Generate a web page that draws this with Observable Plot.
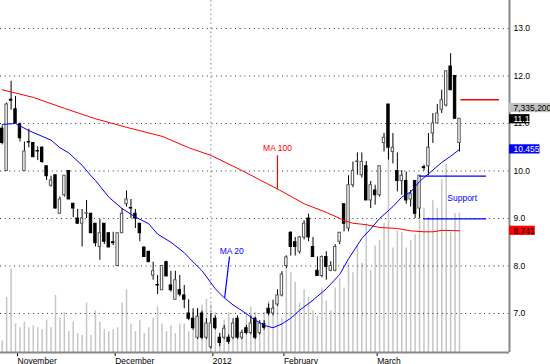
<!DOCTYPE html>
<html><head><meta charset="utf-8">
<script src="https://cdn.jsdelivr.net/npm/d3@7"></script>
<script src="https://cdn.jsdelivr.net/npm/@observablehq/plot@0.6"></script>
<style>
body{margin:0;background:#fff;}
#chart{position:relative;width:550px;height:364px;overflow:hidden;background:#fff;}
#chart svg{position:absolute;left:0;top:0;}
</style></head><body><div id="chart"></div>
<script>
// ---- data ----
const open  = [10.89,10.00,11.50,11.30,10.98,10.00,10.61,10.59,10.42,10.49,10.10,9.69,9.91,9.10,9.49,10.00,9.31,9.00,8.89,9.10,9.10,8.89,8.40,8.89,8.69,8.50,8.00,8.69,9.30,9.22,9.10,8.89,8.39,8.30,7.80,7.60,7.49,8.08,7.59,7.29,7.49,7.38,7.00,6.89,6.49,7.00,6.49,6.29,6.89,6.49,6.49,6.49,6.49,6.89,6.49,6.69,6.59,6.89,6.59,6.78,7.10,7.00,7.19,7.38,8.00,8.70,8.50,8.30,8.60,9.00,8.40,7.90,7.79,8.19,7.90,7.90,8.51,9.30,8.79,9.70,10.19,9.91,10.10,9.38,9.59,9.49,10.59,11.40,10.40,10.00,9.79,9.79,9.40,9.79,9.21,10.08,10.10,10.79,11.00,11.29,11.38,12.20,12.00,10.59];
const high  = [10.95,11.43,11.89,11.57,11.01,10.61,10.88,10.60,10.51,10.51,10.10,9.89,9.91,9.45,9.90,10.00,9.31,9.19,9.19,9.38,9.10,8.89,8.98,8.89,8.69,8.71,8.69,9.21,9.58,9.40,9.19,8.89,8.39,8.30,8.08,7.80,8.00,8.10,7.89,7.89,7.80,7.59,7.29,7.10,7.10,7.05,6.89,7.00,6.95,6.58,6.75,6.55,6.89,6.95,6.65,6.75,6.95,6.92,6.85,6.85,7.20,7.28,7.50,7.88,8.21,8.72,8.60,8.62,8.95,9.09,8.60,8.19,8.21,8.30,8.09,8.45,8.70,9.30,9.90,10.19,10.38,10.38,10.20,9.78,9.70,10.10,10.79,11.40,10.79,10.38,10.01,9.98,9.59,9.79,9.90,10.12,10.79,11.21,11.40,11.70,12.10,12.47,12.00,11.10];
const low   = [10.55,10.00,11.28,11.00,10.61,10.00,10.49,10.29,10.22,10.16,9.80,9.66,9.20,9.10,9.45,9.40,9.02,8.89,8.40,9.00,8.69,8.40,8.12,8.45,8.39,8.43,8.00,8.69,9.24,9.00,8.79,8.51,8.19,8.08,7.70,7.40,7.49,7.78,7.45,7.29,7.35,7.10,6.85,6.65,6.45,6.45,6.45,6.25,6.65,6.30,6.45,6.35,6.45,6.45,6.45,6.55,6.55,6.45,6.55,6.65,6.95,6.95,7.15,7.35,7.95,8.21,8.21,8.25,8.55,8.51,8.19,7.79,7.75,7.70,7.88,7.88,8.45,8.72,8.72,9.65,9.91,9.85,9.38,9.21,9.28,9.45,10.40,10.23,10.15,9.56,9.49,9.30,9.24,9.00,9.00,10.00,9.90,10.58,11.00,11.21,11.35,11.70,11.10,10.40];
const close = [10.59,11.40,11.48,11.00,10.69,10.41,10.60,10.29,10.41,10.19,9.89,9.80,9.21,9.40,9.90,9.40,9.21,8.89,9.00,9.11,8.69,8.48,8.69,8.51,8.39,8.48,8.69,9.10,9.40,9.21,9.00,8.69,8.19,8.08,7.89,7.59,8.00,7.78,7.49,7.70,7.40,7.29,6.89,6.69,6.93,6.49,6.79,6.79,6.69,6.38,6.68,6.40,6.79,6.49,6.59,6.59,6.79,6.49,6.79,6.70,7.00,7.10,7.38,7.82,8.18,8.40,8.40,8.60,8.89,8.60,8.19,7.79,8.19,7.98,8.00,8.40,8.70,8.89,9.70,10.00,10.20,10.19,9.38,9.70,9.49,10.10,10.70,10.49,10.49,9.79,9.90,9.38,9.51,9.10,9.90,10.06,10.49,11.00,11.21,11.49,12.10,11.70,11.10,11.10];
// volume in millions
const volume = [0.6,2.9,4.4,1.5,1.3,1.6,1.3,1.4,1.3,1.2,1.7,1.3,3.0,1.8,2.1,1.1,1.6,1.0,0.9,2.6,0.9,2.2,1.6,1.2,1.1,1.2,1.3,2.6,3.3,1.5,1.1,1.7,1.0,1.3,1.8,2.4,1.5,1.1,1.4,1.0,1.5,1.5,1.1,2.1,2.3,2.5,2.8,2.5,2.1,1.0,1.7,2.1,1.5,1.5,0.8,2.1,2.4,2.1,1.3,2.1,2.7,2.4,2.7,1.8,5.1,4.2,3.7,2.6,3.3,2.9,2.2,1.9,3.4,2.7,2.2,3.4,3.9,3.4,4.7,4.2,5.6,4.7,6.8,4.3,5.6,5.9,6.8,10.6,5.5,6.4,6.3,5.5,5.9,6.2,7.3,7.6,7.1,8.0,7.6,9.1,9.9,6.3,7.3,7.3352];

const ma20Idx = [0,3,6,9,11,13,15,18,20,21,24,27,30,33,35,38,41,42,45,48,50,52,54,57,59,61,63,65,67,70,73,76,78,81,83,85,88,90,92,94,97,99,101,103];
const ma20Val = [10.98,11.00,10.85,10.73,10.65,10.49,10.38,10.12,9.90,9.80,9.45,9.21,9.03,8.89,8.67,8.50,8.28,8.18,7.90,7.52,7.33,7.18,7.06,6.86,6.75,6.70,6.78,6.90,7.07,7.28,7.52,7.82,8.15,8.58,8.78,9.00,9.25,9.45,9.56,9.78,10.02,10.18,10.31,10.455];
const ma100Idx = [0,7,14,21,28,36,42,47,54,62,64,68,73,77,79,82,85,89,92,95,97,99,103];
const ma100Val = [11.71,11.55,11.32,11.10,10.92,10.73,10.49,10.33,10.01,9.62,9.52,9.31,9.13,8.96,8.90,8.87,8.81,8.79,8.74,8.72,8.72,8.75,8.741];

const priceTicks = [7,8,9,10,11,12,13];
const monthIdx = [3,25,47,63,84];
const monthLabels = ["November","December","2012","February","March"];

const annoText  = ["MA 100","MA 20","Support"];
const annoIdx   = [62,51.7,103.6];
const annoPrice = [10.47,8.31,9.43];
const annoColor = ["#ff0000","#0000ff","#0000ff"];

const leaders = [
  {i1:62, p1:10.33, i2:62, p2:9.62, color:"#ff0000"},
  {i1:51.2, p1:8.20, i2:50.1, p2:7.33, color:"#0000ff"}
];
const levels = [
  {i1:94, i2:109.1, p:9.89, color:"#0000ff"},
  {i1:95, i2:109.1, p:8.99, color:"#0000ff"},
  {i1:103.3, i2:112, p:11.5, color:"#ff0000"}
];

const labelText  = ["7,335,200","11.1","10.455","8.741"];
const labelPrice = [11.326,11.09,10.455,8.741];
const labelFill  = ["#c0c0c0","#000000","#0000ff","#ff0000"];
const labelColor = ["#000000","#ffffff","#ffffff","#000000"];

// ---- layout ----
const W = 550, H = 364, mR = 41, mB = 12;
const xDomain = [-0.383, 114.26];
const yDomain = [6.1789, 13.5895];
const volDomain = [0, 18.53];
const fontFamily = "'Liberation Sans', Arial, sans-serif";
const fontPx = 8.5;

// px per unit, from the scales' own domain/range
const pxPerIdx = (W - mR) / (xDomain[1] - xDomain[0]);
const pxPerPrice = (H - mB) / (yDomain[1] - yDomain[0]);
const ctx = document.createElement("canvas").getContext("2d");
ctx.font = `${fontPx}px ${fontFamily}`;

const bars = open.map((o,i)=>({i, o, h:high[i], l:low[i], c:close[i], v:volume[i], up: close[i] >= o}));
const ma20 = ma20Idx.map((i,k)=>({i, v:ma20Val[k]}));
const ma100 = ma100Idx.map((i,k)=>({i, v:ma100Val[k]}));
const anno = annoText.map((t,k)=>({t, i:annoIdx[k], p:annoPrice[k], color:annoColor[k]}));
const vlabels = labelText.map((t,k)=>{
  const w = ctx.measureText(t).width + 4.5;
  return {t, i:xDomain[1], i2:xDomain[1] + w / pxPerIdx, p:labelPrice[k],
    p1:labelPrice[k] - 4.6 / pxPerPrice, p2:labelPrice[k] + 4.6 / pxPerPrice,
    tc:labelColor[k], bg:labelFill[k]};
});
const monthMap = new Map(monthIdx.map((d,k)=>[d, monthLabels[k]]));
const yearIdx = monthIdx[monthLabels.indexOf("2012")];

const common = {width:W, height:H, marginLeft:0, marginRight:mR, marginTop:0, marginBottom:mB};

const volPlot = Plot.plot({
  ...common,
  x:{domain:xDomain, axis:null},
  y:{domain:volDomain, axis:null},
  style:{background:"#fff"},
  marks:[
    Plot.ruleX(bars, {x:"i", y1:0, y2:"v", stroke:"#c6c6c6", strokeWidth:1.5})
  ]
});

const pricePlot = Plot.plot({
  ...common,
  x:{domain:xDomain},
  y:{domain:yDomain},
  color:{type:"identity"},
  style:{background:"transparent", fontFamily, fontSize:`${fontPx}px`, color:"#000"},
  marks:[
    Plot.ruleY(priceTicks, {stroke:"#333", strokeWidth:1, strokeDasharray:"1,3.7"}),
    Plot.ruleX([yearIdx], {stroke:"#888", strokeWidth:1, strokeDasharray:"1.5,3"}),
    Plot.ruleX(bars, {x:"i", y1:"l", y2:"h", stroke:"#000", strokeWidth:1}),
    Plot.rect(bars, {x1:d=>d.i-0.27, x2:d=>d.i+0.27, y1:"o", y2:"c",
      fill:d=>d.up?"#ffffff":"#000000", stroke:d=>d.up?"#555555":"#000000", strokeWidth:1}),
    Plot.line(ma100, {x:"i", y:"v", stroke:"#ff0000", strokeWidth:1}),
    Plot.line(ma20, {x:"i", y:"v", stroke:"#0000ff", strokeWidth:1}),
    Plot.ruleY(levels, {y:"p", x1:"i1", x2:"i2", stroke:"color", strokeWidth:1.3}),
    Plot.link(leaders, {x1:"i1", y1:"p1", x2:"i2", y2:"p2", stroke:"color", strokeWidth:1.2}),
    Plot.text(anno, {x:"i", y:"p", text:"t", fill:"color", fontSize:fontPx}),
    Plot.axisY(priceTicks, {anchor:"right", tickSize:0, tickPadding:4, tickFormat:d=>d.toFixed(1), label:null, fontSize:fontPx, fill:"#000"}),
    Plot.axisX(monthIdx, {anchor:"bottom", tickSize:4, tickPadding:1, tickFormat:d=>monthMap.get(d), textAnchor:"start", dx:2, label:null, fontSize:fontPx, fill:"#000"}),
    Plot.ruleY([yDomain[0]], {stroke:"#888", strokeWidth:2}),
    Plot.ruleX([xDomain[1]], {stroke:"#888", strokeWidth:2}),
    Plot.rect(vlabels, {x1:"i", x2:"i2", y1:"p1", y2:"p2", fill:"bg"}),
    Plot.text(vlabels, {x:"i", y:"p", text:"t", fill:"tc", textAnchor:"start", dx:4, fontSize:fontPx})
  ]
});

const root = document.getElementById("chart");
root.append(volPlot, pricePlot);
</script>
</body></html>
